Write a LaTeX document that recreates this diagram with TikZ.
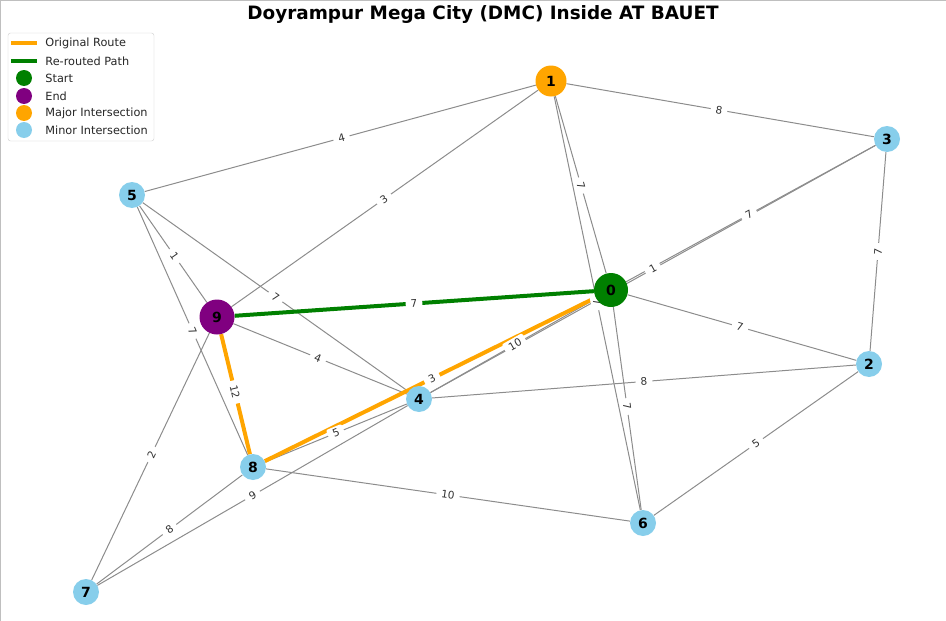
\documentclass[tikz,border=0pt]{standalone}
\usepackage{fontspec}
\setmainfont{DejaVu Sans}
\usetikzlibrary{positioning,backgrounds}
\definecolor{routeorange}{HTML}{FFA500}
\definecolor{reroutegreen}{HTML}{008000}
\definecolor{endpurple}{HTML}{800080}
\definecolor{minorblue}{HTML}{87CEEB}

\begin{document}
\begin{tikzpicture}[x=1pt,y=-1pt]
\tikzstyle{node_minor} = [circle, fill=minorblue, minimum size=26pt, inner sep=0pt,
font=\fontsize{14}{14}\selectfont\bfseries]
\tikzstyle{node_major} = [node_minor, fill=routeorange, minimum size=31pt]
\tikzstyle{node_start} = [node_minor, fill=reroutegreen, minimum size=34pt]
\tikzstyle{node_end} = [node_minor, fill=endpurple, minimum size=35pt]
\tikzstyle{line} = [draw, black!45, line width=1pt]
\tikzstyle{route} = [draw, routeorange, line width=4pt]
\tikzstyle{reroute} = [draw, reroutegreen, line width=4pt]
\tikzstyle{weight} = [sloped, fill=white, rounded corners=2pt, inner xsep=5pt, inner ysep=2.5pt,
text=black!80, font=\fontsize{10.5}{10.5}\selectfont]
\tikzstyle{legtext} = [inner sep=0pt, anchor=west, font=\fontsize{11.3}{11.3}\selectfont, text=black!85]
\useasboundingbox (0,0) rectangle (946,621);
\draw [black!25, line width=1pt] (0.5,621) -- (0.5,0.5) -- (946,0.5);

\node [font=\fontsize{18.4}{18.4}\selectfont\bfseries, anchor=base] (title) at (483,19.5)
{Doyrampur Mega City (DMC) Inside AT BAUET};

% intersections
\node [node_start] (n0) at (611,290) {0};
\node [node_major] (n1) at (551,81) {1};
\node [node_minor] (n2) at (869,364) {2};
\node [node_minor] (n3) at (887,139) {3};
\node [node_minor] (n4) at (419,399) {4};
\node [node_minor] (n5) at (132,195) {5};
\node [node_minor] (n6) at (643,523) {6};
\node [node_minor] (n7) at (86,592) {7};
\node [node_minor] (n8) at (253,467) {8};
\node [node_end] (n9) at (217,317) {9};

\begin{scope}[on background layer]
% roads
\draw [line] (n0) -- (n1);
\draw [line] (n1) -- (n6);
\draw [line] (n0) -- (n6);
\draw [line] (n0) -- (n3);
\draw [line] (n3) -- (n4);
\draw [line] (n0) -- (n4);
\draw [line] (n0) -- (n8);
\draw [line] (n8) -- (n9);
\draw [line] (n0) -- (n9);
\draw [line] (n4) -- (n8);
\draw [line] (n4) -- (n7);
\draw [line] (n7) -- (n8);
\draw [line] (n7) -- (n9);
\draw [line] (n5) -- (n8);
\draw [line] (n5) -- (n9);
\draw [line] (n4) -- (n5);
\draw [line] (n4) -- (n9);
\draw [line] (n1) -- (n9);
\draw [line] (n1) -- (n5);
\draw [line] (n1) -- (n3);
\draw [line] (n2) -- (n3);
\draw [line] (n0) -- (n2);
\draw [line] (n2) -- (n4);
\draw [line] (n2) -- (n6);
\draw [line] (n6) -- (n8);
% original route and re-routed path
\draw [route] (n0) -- (n8);
\draw [route] (n8) -- (n9);
\draw [reroute] (n9) -- (n0);
% weights
\path (n0.center) -- node [weight] {7} (n1.center);
\path (n1.center) -- node [weight] {7} (n6.center);
\path (n0.center) -- node [weight] {7} (n6.center);
\path (n0.center) -- node [weight] {7} (n3.center);
\path (n3.center) -- node [weight] {1} (n4.center);
\path (n0.center) -- node [weight] {10} (n4.center);
\path (n0.center) -- node [weight] {3} (n8.center);
\path (n8.center) -- node [weight] {12} (n9.center);
\path (n0.center) -- node [weight] {7} (n9.center);
\path (n4.center) -- node [weight] {5} (n8.center);
\path (n4.center) -- node [weight] {9} (n7.center);
\path (n7.center) -- node [weight] {8} (n8.center);
\path (n7.center) -- node [weight] {2} (n9.center);
\path (n5.center) -- node [weight] {7} (n8.center);
\path (n5.center) -- node [weight] {1} (n9.center);
\path (n4.center) -- node [weight] {7} (n5.center);
\path (n4.center) -- node [weight] {4} (n9.center);
\path (n1.center) -- node [weight] {3} (n9.center);
\path (n1.center) -- node [weight] {4} (n5.center);
\path (n1.center) -- node [weight] {8} (n3.center);
\path (n2.center) -- node [weight] {7} (n3.center);
\path (n0.center) -- node [weight] {7} (n2.center);
\path (n2.center) -- node [weight] {8} (n4.center);
\path (n2.center) -- node [weight] {5} (n6.center);
\path (n6.center) -- node [weight] {10} (n8.center);
\end{scope}

% legend
\node [draw=black!20, fill=white, rounded corners=2.5pt, minimum width=146pt,
minimum height=108pt, inner sep=0pt] (legend) at (81,87) {};
\node [fill=routeorange, minimum width=26pt, minimum height=4pt, inner sep=0pt] (key_orig) at (24,43) {};
\node [fill=reroutegreen, minimum width=26pt, minimum height=4pt, inner sep=0pt] (key_new) at (24,61) {};
\node [circle, fill=reroutegreen, minimum size=16pt, inner sep=0pt] (key_start) at (24,78) {};
\node [circle, fill=endpurple, minimum size=16pt, inner sep=0pt] (key_end) at (24,96) {};
\node [circle, fill=routeorange, minimum size=16pt, inner sep=0pt] (key_major) at (24,113) {};
\node [circle, fill=minorblue, minimum size=16pt, inner sep=0pt] (key_minor) at (24,130) {};
\node [legtext, right=8pt of key_orig] {Original Route};
\node [legtext, right=8pt of key_new] {Re-routed Path};
\node [legtext, right=13pt of key_start] {Start};
\node [legtext, right=13pt of key_end] {End};
\node [legtext, right=13pt of key_major] {Major Intersection};
\node [legtext, right=13pt of key_minor] {Minor Intersection};
\end{tikzpicture}
\end{document}
